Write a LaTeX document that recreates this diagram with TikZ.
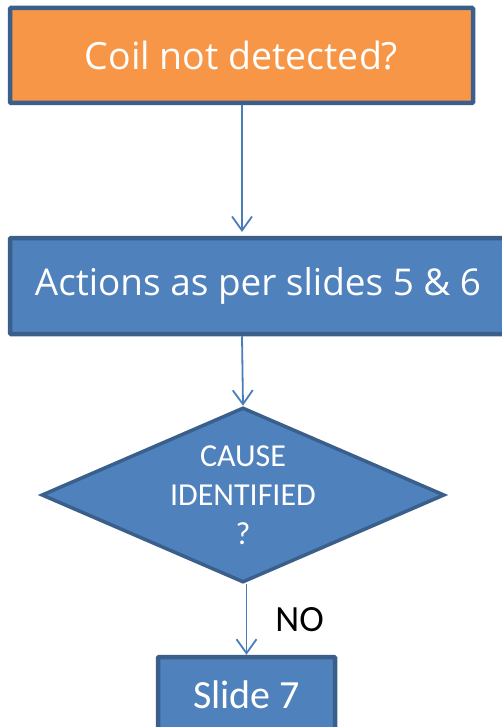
\documentclass[tikz,border=0pt]{standalone}
\usepackage{fontspec}
\setmainfont{Carlito}
\newfontfamily\gefont{Open Sans}
\usetikzlibrary{shapes.geometric,arrows.meta}
\definecolor{orangefill}{HTML}{F79646}
\definecolor{bluefill}{HTML}{4F81BD}
\definecolor{boxborder}{HTML}{3A5F8B}
\definecolor{arrowcol}{HTML}{4A7EBB}
\tikzset{
  boxstyle/.style={draw=boxborder, line width=4.5pt, rectangle, rounded corners=1pt, inner sep=0pt, text=white},
  arr/.style={draw=arrowcol, line width=1.8pt, -{Straight Barb[length=14pt,width=20pt,line width=1.8pt]}},
}
\begin{document}
\begin{tikzpicture}[x=1pt,y=-1pt]
\useasboundingbox (0,0) rectangle (502,727);
\clip (0,0) rectangle (502,727);
\node[boxstyle, fill=orangefill, minimum width=463pt, minimum height=95pt,
  font=\gefont\fontsize{37.5}{40}\selectfont] (b1) at (241.5,55.5) {Coil not detected?};
\node[boxstyle, fill=bluefill, minimum width=496pt, minimum height=96pt,
  font=\gefont\fontsize{36.9}{40}\selectfont] (b2) at (258,286) {Actions as per slides 5 \& 6};
\node[draw=boxborder, line width=3.5pt, fill=bluefill, shape=diamond, inner sep=0pt,
  minimum width=403pt, minimum height=175pt] (d) at (243,495) {};
\node[text=white, align=center, font=\fontsize{32}{39}\selectfont, inner sep=0pt] (dt) at (d.center) {CAUSE\\IDENTIFIED\\?};
\node[boxstyle, fill=bluefill, minimum width=177pt, minimum height=76pt,
  font=\fontsize{40}{40}\selectfont] (s7) at (246.5,695) {Slide 7};
\draw[arr] (b1.south -| 242,0) -- (242,232) coordinate (a1end);
\draw[arr] (b2.south -| 242,0) -- (d.north);
\draw[arr] (d.south -| s7.north) -- (s7.north) node[pos=0.67, anchor=base west, xshift=28pt, text=black, font=\fontsize{37}{40}\selectfont, inner sep=0pt] (no) {NO};
\end{tikzpicture}
\end{document}
